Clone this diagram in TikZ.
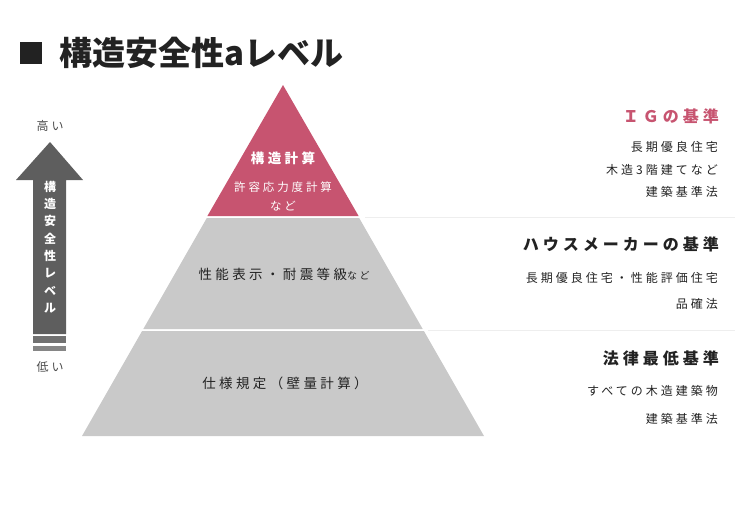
\documentclass[tikz,border=0pt]{standalone}
\usepackage{fontspec}
\usepackage{xcolor}
\usepackage{tikz}
\usetikzlibrary{positioning,calc}
\newfontfamily\jpfont[LetterSpace=25]{Noto Sans CJK JP}
\newfontfamily\jptitle{Noto Sans CJK JP}
\definecolor{igpink}{HTML}{C75470}
\definecolor{pyrgray}{HTML}{C9C9C9}
\definecolor{arrowgray}{HTML}{5E5E5E}
\definecolor{textdark}{HTML}{222222}
\definecolor{rulegray}{HTML}{EEEEEE}

\tikzset{
  lbl/.style={inner sep=0pt, text=textdark, font=\jpfont\fontsize{12}{12}\selectfont},
  headlbl/.style={inner sep=0pt, text=textdark, font=\jpfont\bfseries\fontsize{16}{16}\selectfont},
  pyrlbl/.style={inner sep=0pt, text=textdark, font=\jpfont\fontsize{13.5}{13.5}\selectfont},
  rightlbl/.style={anchor=east}
}

\begin{document}
\begin{tikzpicture}[x=1pt, y=-1pt]
  \useasboundingbox (0,0) rectangle (750,515);

  % Title
  \fill[textdark] (20,42) rectangle (42,64);
  \node[anchor=west, inner sep=0pt, text=textdark,
        font=\jptitle\bfseries\fontsize{33}{33}\selectfont] (title) at (59,53) {構造安全性aレベル};

  % Level arrow
  \fill[arrowgray] (33,334) -- (33,180) -- (16,180) -- (50,142) -- (83,180)
    -- (66,180) -- (66,334) -- cycle;
  \fill[arrowgray!88!white] (33,336) rectangle (66,343);
  \fill[arrowgray!75!white] (33,346) rectangle (66,351);
  \node[lbl, text=white, font=\jpfont\bfseries\fontsize{12}{17.3}\selectfont, align=center]
    (arrowtxt) at (50,247) {構\\造\\安\\全\\性\\レ\\ベ\\ル};
  \node[lbl, text=black!70] (high) at (50,126) {高い};
  \node[lbl, text=black!70] (low) at (50,367) {低い};

  % Pyramid
  \fill[igpink] (283,85) -- (358.6,216) -- (207.4,216) -- cycle;
  \fill[pyrgray] (206.8,218) -- (359.2,218) -- (422.7,329) -- (143.3,329) -- cycle;
  \fill[pyrgray] (142.1,331) -- (423.9,331) -- (484,436) -- (82,436) -- cycle;

  % separator lines
  \draw[rulegray, line width=1pt] (365,217) -- (735,217);
  \draw[rulegray, line width=1pt] (428,330) -- (735,330);

  % Pyramid labels
  \node[pyrlbl, text=white, font=\jpfont\bfseries\fontsize{13.5}{13.5}\selectfont] (topA) at (283,158) {構造計算};
  \node[lbl, text=white, font=\jpfont\fontsize{11.5}{11.5}\selectfont] (topB) at (283,187) {許容応力度計算};
  \node[lbl, text=white, font=\jpfont\fontsize{11.5}{11.5}\selectfont] (topC) at (283,206) {など};
  \node[pyrlbl] (mid) at (284,274) {性能表示・耐震等級{\fontsize{10}{10}\selectfont など}};
  \node[pyrlbl] (base) at (285,383) {仕様規定（壁量計算）};

  % Right column
  \node[headlbl, rightlbl, text=igpink] (igHead) at (719,116) {ＩＧの基準};
  \node[lbl, rightlbl] (igA) at (718,147) {長期優良住宅};
  \node[lbl, rightlbl] (igB) at (718,170) {木造3階建てなど};
  \node[lbl, rightlbl] (igC) at (718,192) {建築基準法};

  \node[headlbl, rightlbl] (hmHead) at (719,244) {ハウスメーカーの基準};
  \node[lbl, rightlbl] (hmA) at (718,278) {長期優良住宅・性能評価住宅};
  \node[lbl, rightlbl] (hmB) at (718,304) {品確法};

  \node[headlbl, rightlbl] (lawHead) at (719,358) {法律最低基準};
  \node[lbl, rightlbl] (lawA) at (718,391) {すべての木造建築物};
  \node[lbl, rightlbl] (lawB) at (718,419) {建築基準法};
\end{tikzpicture}
\end{document}
